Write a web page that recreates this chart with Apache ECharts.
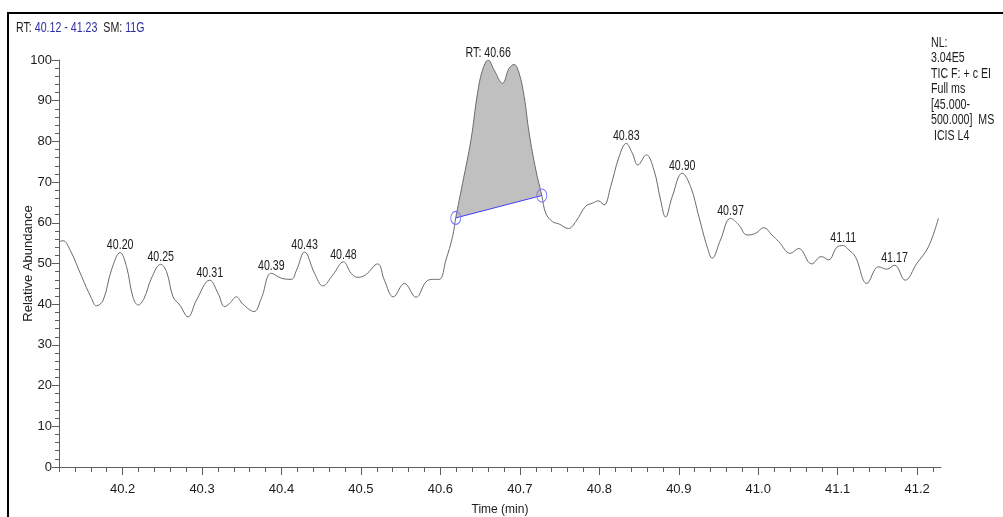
<!DOCTYPE html>
<html>
<head>
<meta charset="utf-8">
<script src="https://cdn.jsdelivr.net/npm/echarts@6/dist/echarts.min.js"></script>
<style>
  html, body { margin: 0; padding: 0; background: #ffffff; }
  #chart { width: 1003px; height: 517px; }
</style>
</head>
<body>
<div id="chart"></div>
<script>
// Total ion chromatogram, 40.12 - 41.23 min
const retentionTimes = [
  40.12, 40.125, 40.134, 40.1485, 40.161, 40.167, 40.1756, 40.186, 40.197, 40.205,
  40.213, 40.2196, 40.227, 40.2364, 40.248, 40.2553, 40.2636, 40.272, 40.2824, 40.293,
  40.3097, 40.3201, 40.3285, 40.3348, 40.3432, 40.3515, 40.3653, 40.3746, 40.3872, 40.3997,
  40.4123, 40.419, 40.429, 40.4416, 40.452, 40.4646, 40.478, 40.4877, 40.496, 40.5057,
  40.5211, 40.5295, 40.5408, 40.5547, 40.5693, 40.5819, 40.5902, 40.5986, 40.607, 40.6153,
  40.6193, 40.6279, 40.6384, 40.6467, 40.653, 40.6602, 40.6677, 40.6781, 40.6866, 40.6928,
  40.6991, 40.7054, 40.7117, 40.7201, 40.7276, 40.7327, 40.741, 40.7494, 40.7611, 40.7704,
  40.7829, 40.7912, 40.7988, 40.8059, 40.8143, 40.8248, 40.8339, 40.8415, 40.8486, 40.8591,
  40.8687, 40.8771, 40.8834, 40.8917, 40.9043, 40.9148, 40.9253, 40.9357, 40.942, 40.9525,
  40.9651, 40.9755, 40.986, 40.9965, 41.0069, 41.0173, 41.0257, 41.0404, 41.0509, 41.0672,
  41.0794, 41.0886, 41.099, 41.107, 41.1125, 41.1221, 41.1367, 41.1514, 41.1618, 41.1715,
  41.1849, 41.1995, 41.2142, 41.2267
];
const relAbundance = [
  55.3, 55.6, 53.3, 46.8, 41.4, 39.6, 41.0, 48.4, 52.7, 49.2,
  41.8, 39.8, 41.4, 46.4, 49.8, 48.0, 41.8, 39.8, 36.9, 41.0,
  45.9, 42.7, 39.4, 40.2, 41.8, 40.0, 38.2, 41.4, 47.6, 46.4,
  46.1, 48.4, 52.8, 47.6, 44.5, 47.2, 50.4, 47.6, 46.6, 47.2,
  49.9, 45.9, 41.8, 45.1, 41.7, 45.5, 46.1, 46.1, 50.9, 56.6,
  61.2, 69.7, 80.3, 91.8, 97.5, 100, 97.5, 94.3, 98.0, 98.9,
  96.7, 91.0, 82.0, 73.0, 66.7, 62.3, 60.3, 59.7, 58.6, 60.3,
  64.1, 64.8, 65.4, 64.4, 68.9, 76.2, 79.5, 77.1, 74.2, 76.7,
  73.0, 65.6, 61.4, 66.4, 72.2, 68.9, 61.5, 54.1, 51.3, 55.8,
  61.1, 59.5, 57.0, 57.4, 58.8, 57.0, 55.4, 52.5, 53.7, 49.9,
  51.7, 50.9, 54.0, 54.4, 53.6, 51.7, 45.1, 49.2, 48.6, 49.6,
  45.9, 50.0, 54.1, 61.1
];

// Apex retention times printed above the peaks
const peakLabelsRT = ['40.20', '40.25', '40.31', '40.39', '40.43', '40.48',
                      '40.66', '40.83', '40.90', '40.97', '41.11', '41.17'];
const integratedPeakRT = '40.66';
// Integration limits of the shaded peak (baseline end points)
const integrationStart = 40.6193;
const integrationEnd = 40.7276;

const xTickLabels = ['40.2', '40.3', '40.4', '40.5', '40.6', '40.7', '40.8', '40.9', '41.0', '41.1', '41.2'];
const yTickLabels = ['0', '10', '20', '30', '40', '50', '60', '70', '80', '90', '100'];
const timeRange = ['40.12', '41.23'];
const smoothingLabel = '11G';
const scanInfoLines = ['NL:', '3.04E5', 'TIC F: + c EI', 'Full ms', '[45.000-', '500.000]  MS', ' ICIS L4'];

const FONT = "'Liberation Sans', Arial, sans-serif";
const CONDENSE = 0.76;          // horizontal squeeze of the annotation text
const NOTE_SIZE = 14;
const TEXT = '#1b1b1b';
const AXIS = '#5f5f5f';
const TRACE = '#6a6a6a';
const SMOOTH = 0.4;

const xMin = Number(timeRange[0]);
const xMax = Number(timeRange[1]);
const xMajor = xTickLabels.map(Number);
const xMinor = [];
for (let k = Math.round(xMin * 50); k <= Math.floor(xMax * 50); k++) xMinor.push(+(k / 50).toFixed(2));

const trace = retentionTimes.map((t, i) => [t, relAbundance[i]]);
const idxOf = t => retentionTimes.findIndex(v => Math.abs(v - t) < 1e-9);
const iStart = idxOf(integrationStart);
const iEnd = idxOf(integrationEnd);

// Label anchors: highest trace point near each printed retention time
const peakMarks = peakLabelsRT.map(rt => {
  const r = Number(rt);
  let best = -1;
  retentionTimes.forEach((t, i) => {
    if (Math.abs(t - r) <= 0.007 && (best < 0 || relAbundance[i] > relAbundance[best])) best = i;
  });
  return { value: [retentionTimes[best], relAbundance[best]], text: rt === integratedPeakRT ? 'RT: ' + rt : rt };
});

// Same cubic smoothing as the line series, so the shaded area follows the trace
function bezierSegments(pts, smooth) {
  const segs = [];
  let cp0 = pts[0].slice();
  for (let i = 1; i < pts.length; i++) {
    const px = pts[i - 1][0], py = pts[i - 1][1];
    const x = pts[i][0], y = pts[i][1];
    let cp1, nextCp0;
    if (i === pts.length - 1) {
      cp1 = [x, y]; nextCp0 = [x, y];
    } else {
      const nx = pts[i + 1][0], ny = pts[i + 1][1];
      let vx = nx - px, vy = ny - py;
      const lenPrev = Math.hypot(x - px, y - py);
      const lenNext = Math.hypot(nx - x, ny - y);
      const ratio = lenNext / (lenNext + lenPrev);
      let ncx = x + vx * smooth * ratio, ncy = y + vy * smooth * ratio;
      ncx = Math.max(Math.min(ncx, Math.max(nx, x)), Math.min(nx, x));
      ncy = Math.max(Math.min(ncy, Math.max(ny, y)), Math.min(ny, y));
      vx = ncx - x; vy = ncy - y;
      let c1x = x - vx * lenPrev / lenNext, c1y = y - vy * lenPrev / lenNext;
      c1x = Math.max(Math.min(c1x, Math.max(px, x)), Math.min(px, x));
      c1y = Math.max(Math.min(c1y, Math.max(py, y)), Math.min(py, y));
      vx = x - c1x; vy = y - c1y;
      ncx = x + vx * lenNext / lenPrev; ncy = y + vy * lenNext / lenPrev;
      cp1 = [c1x, c1y]; nextCp0 = [ncx, ncy];
    }
    segs.push([cp0[0], cp0[1], cp1[0], cp1[1], x, y]);
    cp0 = nextCp0;
  }
  return segs;
}

const chart = echarts.init(document.getElementById('chart'), null, { renderer: 'canvas' });

const baseXAxis = {
  type: 'value', min: xMin, max: xMax, position: 'bottom',
  splitLine: { show: false }
};

chart.setOption({
  animation: false,
  backgroundColor: '#ffffff',
  grid: { left: 59, right: 62, top: 60, bottom: 50, containLabel: false, outerBoundsMode: 'none' },
  xAxis: [
    Object.assign({}, baseXAxis, {
      name: 'Time (min)', nameLocation: 'middle', nameGap: 37, nameMoveOverlap: false,
      nameTextStyle: { color: TEXT, fontFamily: FONT, fontSize: 12 },
      axisLine: { show: true, lineStyle: { color: AXIS, width: 1 } },
      axisTick: { show: true, customValues: xMinor, length: 5, lineStyle: { color: AXIS } },
      axisLabel: { show: false }
    }),
    Object.assign({}, baseXAxis, {
      axisLine: { show: false },
      axisTick: { show: true, customValues: xMajor, length: 8, lineStyle: { color: AXIS } },
      axisLabel: {
        show: true, customValues: xMajor, margin: 16,
        color: TEXT, fontFamily: FONT, fontSize: 13,
        formatter: v => xTickLabels[xMajor.findIndex(m => Math.abs(m - v) < 1e-6)]
      }
    })
  ],
  yAxis: {
    type: 'value', min: 0, max: 100, interval: 10,
    name: 'Relative Abundance', nameLocation: 'middle', nameGap: 24, nameMoveOverlap: false,
    nameTextStyle: { color: TEXT, fontFamily: FONT, fontSize: 13 },
    axisLine: { show: true, lineStyle: { color: AXIS, width: 1 } },
    axisTick: { show: true, length: 7, lineStyle: { color: AXIS } },
    minorTick: { show: true, splitNumber: 5, length: 4, lineStyle: { color: AXIS } },
    axisLabel: {
      margin: 7, color: TEXT, fontFamily: FONT, fontSize: 13,
      formatter: v => yTickLabels[Math.round(v / 10)]
    },
    splitLine: { show: false }
  },
  series: [
    {
      // shaded area of the integrated peak, closed by its baseline
      type: 'custom', xAxisIndex: 0, z: 1,
      data: [[integrationStart, 0]],
      renderItem: (params, api) => {
        const pts = trace.map(p => api.coord(p));
        const segs = bezierSegments(pts, SMOOTH);
        let d = 'M' + pts[iStart][0] + ' ' + pts[iStart][1];
        for (let i = iStart + 1; i <= iEnd; i++) d += ' C' + segs[i - 1].join(' ');
        d += ' Z';
        return { type: 'path', shape: { pathData: d }, style: { fill: '#c0c0c0', stroke: null } };
      }
    },
    {
      type: 'line', xAxisIndex: 0, z: 2,
      data: trace, smooth: SMOOTH, symbol: 'none', silent: true,
      lineStyle: { color: TRACE, width: 1 }
    },
    {
      // integration baseline with its end markers
      type: 'line', xAxisIndex: 0, z: 3,
      data: [trace[iStart], trace[iEnd]],
      symbol: 'circle', symbolSize: [10, 13], showSymbol: true,
      itemStyle: { color: 'rgba(0,0,0,0)', borderColor: '#7676ff', borderWidth: 1 },
      lineStyle: { color: '#3f3fff', width: 1 }
    },
    {
      // retention-time labels above the peak apexes
      type: 'custom', xAxisIndex: 0, z: 4, silent: true,
      data: peakMarks.map(m => m.value),
      renderItem: (params, api) => {
        const p = api.coord([api.value(0), api.value(1)]);
        return {
          type: 'text', x: p[0], y: p[1], scaleX: CONDENSE,
          style: {
            text: peakMarks[params.dataIndex].text, fill: TEXT,
            fontFamily: FONT, fontSize: NOTE_SIZE, align: 'center', verticalAlign: 'bottom'
          }
        };
      }
    }
  ],
  graphic: [
    {
      type: 'rect', silent: true, z: 10,
      shape: { x: 8, y: 13, width: 1100, height: 600 },
      style: { fill: null, stroke: '#000000', lineWidth: 2 }
    },
    {
      type: 'text', silent: true, x: 16, y: 28, scaleX: CONDENSE,
      style: {
        text: '{k|RT: }{v|' + timeRange[0] + ' - ' + timeRange[1] + '}{k|  SM: }{v|' + smoothingLabel + '}',
        fontFamily: FONT, fontSize: NOTE_SIZE, fill: TEXT, verticalAlign: 'middle',
        rich: {
          k: { fill: TEXT, fontFamily: FONT, fontSize: NOTE_SIZE },
          v: { fill: '#2f2fa6', fontFamily: FONT, fontSize: NOTE_SIZE }
        }
      }
    }
  ].concat(scanInfoLines.map((line, i) => ({
    type: 'text', silent: true, x: 931, y: 43 + i * 15.5, scaleX: CONDENSE,
    style: { text: line, fontFamily: FONT, fontSize: NOTE_SIZE, fill: TEXT, verticalAlign: 'middle' }
  })))
});
</script>
</body>
</html>
